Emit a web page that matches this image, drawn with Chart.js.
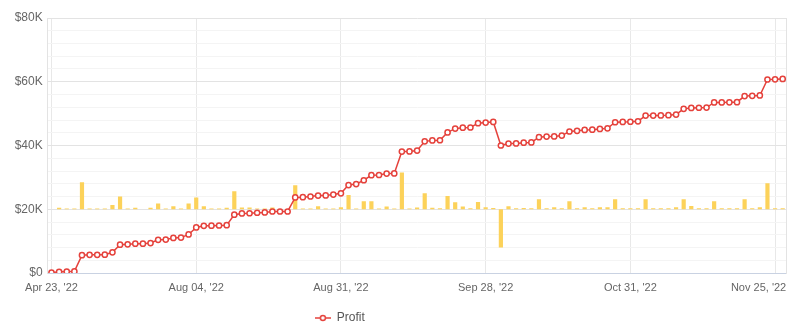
<!DOCTYPE html>
<html>
<head>
<meta charset="utf-8">
<script src="https://cdn.jsdelivr.net/npm/chart.js@4.4.0/dist/chart.umd.min.js"></script>
<style>
  html, body { margin: 0; padding: 0; background: #fff; }
  #wrap { width: 792px; height: 334px; position: relative; }
</style>
</head>
<body>
<div id="wrap"><canvas id="c"></canvas></div>
<script>
// ---- categories (trade dates) ----
const dates = [
  "Apr 23, '22",
  "May 02, '22","May 16, '22","May 27, '22","Jun 06, '22","Jun 14, '22","Jun 22, '22","Jun 29, '22","Jul 06, '22","Jul 12, '22",
  "Jul 15, '22","Jul 19, '22","Jul 21, '22","Jul 25, '22","Jul 27, '22","Jul 28, '22","Jul 29, '22","Aug 01, '22","Aug 03, '22",
  "Aug 04, '22",
  "Aug 05, '22","Aug 08, '22","Aug 09, '22","Aug 10, '22","Aug 11, '22","Aug 12, '22","Aug 15, '22","Aug 16, '22","Aug 17, '22",
  "Aug 18, '22","Aug 19, '22","Aug 22, '22","Aug 23, '22","Aug 24, '22","Aug 25, '22","Aug 26, '22","Aug 29, '22","Aug 30, '22",
  "Aug 31, '22",
  "Sep 01, '22","Sep 02, '22","Sep 06, '22","Sep 07, '22","Sep 08, '22","Sep 09, '22","Sep 12, '22","Sep 13, '22","Sep 14, '22",
  "Sep 15, '22","Sep 16, '22","Sep 19, '22","Sep 20, '22","Sep 21, '22","Sep 22, '22","Sep 23, '22","Sep 26, '22","Sep 27, '22",
  "Sep 28, '22",
  "Sep 29, '22","Sep 30, '22","Oct 03, '22","Oct 04, '22","Oct 05, '22","Oct 06, '22","Oct 07, '22","Oct 10, '22","Oct 12, '22",
  "Oct 13, '22","Oct 14, '22","Oct 17, '22","Oct 19, '22","Oct 20, '22","Oct 21, '22","Oct 24, '22","Oct 26, '22","Oct 28, '22",
  "Oct 31, '22",
  "Nov 01, '22","Nov 02, '22","Nov 03, '22","Nov 04, '22","Nov 07, '22","Nov 08, '22","Nov 09, '22","Nov 10, '22","Nov 11, '22",
  "Nov 14, '22","Nov 15, '22","Nov 16, '22","Nov 17, '22","Nov 18, '22","Nov 21, '22","Nov 22, '22","Nov 23, '22","Nov 24, '22",
  "Nov 25, '22",
  "Nov 28, '22"
];

// ---- cumulative profit (USD) ----
const profit = [
  100, 400, 450, 500, 5600, 5700, 5700, 5750, 6500, 8900,
  9000, 9200, 9200, 9400, 10400, 10500, 11000, 11100, 12100, 14300,
  14800, 14850, 14900, 15000, 18300, 18700, 18750, 18900, 19000, 19300,
  19300, 19300, 23700, 23800, 24000, 24300, 24350, 24600, 25000, 27600,
  27900, 29100, 30700, 30750, 31200, 31250, 38100, 38150, 38400, 41300,
  41600, 41650, 44100, 45300, 45600, 45650, 47000, 47200, 47400, 40000,
  40600, 40650, 40900, 40950, 42600, 42800, 42850, 43100, 44400, 44600,
  44900, 44950, 45200, 45400, 47300, 47400, 47450, 47600, 49400, 49400,
  49450, 49500, 49700, 51500, 51800, 51850, 51900, 53500, 53500, 53550,
  53600, 55500, 55600, 55700, 60700, 60750, 60900
];

// ---- per-day profit (USD) ----
const daily = [
  0, 300, 150, 150, 5100, 150, 150, 150, 800, 2400,
  150, 300, 0, 300, 1100, 150, 550, 150, 1100, 2200,
  550, 150, 150, 300, 3400, 350, 350, 150, 150, 350,
  0, 0, 4500, 150, 150, 550, 150, 150, 400, 2700,
  150, 1500, 1500, 150, 500, 150, 6900, 150, 350, 3000,
  300, 200, 2500, 1300, 500, 200, 1350, 400, 250, -7200,
  550, 200, 250, 200, 1900, 200, 400, 200, 1500, 200,
  400, 200, 400, 400, 1900, 200, 200, 200, 1900, 200,
  200, 200, 400, 1900, 600, 200, 200, 1500, 200, 200,
  200, 1900, 200, 400, 4900, 200, 200
];

const LABEL_EVERY = 19;
const RED = '#E5423C';
const FONT = "'Liberation Sans', Arial, sans-serif";

// legend marker: short line with hollow circle
function makeMarker() {
  const c = document.createElement('canvas');
  c.width = 16; c.height = 8;
  const g = c.getContext('2d');
  g.strokeStyle = RED; g.lineWidth = 1.5;
  g.beginPath(); g.moveTo(0, 4); g.lineTo(16, 4); g.stroke();
  g.beginPath(); g.arc(8, 4, 2.5, 0, Math.PI * 2);
  g.fillStyle = '#fff'; g.fill(); g.stroke();
  return c;
}
const marker = makeMarker();
const blank = document.createElement('canvas'); blank.width = 1; blank.height = 1;

new Chart(document.getElementById('c'), {
  type: 'bar',
  data: {
    labels: dates,
    datasets: [
      {
        type: 'line',
        label: 'Profit',
        data: profit,
        yAxisID: 'y',
        borderColor: RED,
        backgroundColor: '#fff',
        borderWidth: 1.5,
        pointRadius: 2.6,
        pointBorderWidth: 1.5,
        pointBackgroundColor: '#fff',
        pointBorderColor: RED,
        tension: 0,
        order: 0
      },
      {
        type: 'bar',
        label: 'Daily',
        data: daily,
        yAxisID: 'y1',
        backgroundColor: '#FCD25A',
        borderWidth: 0,
        barPercentage: 0.55,
        categoryPercentage: 1,
        order: 1
      }
    ]
  },
  options: {
    responsive: true,
    maintainAspectRatio: false,
    animation: false,
    layout: { padding: { top: 18, right: 5, left: 0, bottom: 0 } },
    plugins: {
      tooltip: { enabled: false },
      legend: {
        position: 'bottom',
        align: 'center',
        labels: {
          usePointStyle: true,
          pointStyleWidth: 16,
          boxHeight: 8,
          padding: 10,
          color: '#555',
          font: { family: FONT, size: 12 },
          generateLabels: (chart) => {
            const items = Chart.defaults.plugins.legend.labels.generateLabels(chart)
              .filter(it => it.text === 'Profit');
            items.forEach(it => { it.pointStyle = marker; });
            items.push({
              text: '\u2003\u2003\u2003\u2003\u2003\u2003 ',
              fillStyle: 'rgba(0,0,0,0)', strokeStyle: 'rgba(0,0,0,0)',
              lineWidth: 0, hidden: false, pointStyle: blank, datasetIndex: -1
            });
            return items;
          }
        }
      }
    },
    scales: {
      x: {
        offset: true,
        grid: { offset: false, color: '#e8e8e8', drawTicks: false },
        border: { color: '#c9d2e2', width: 1 },
        ticks: {
          autoSkip: false, maxRotation: 0, padding: 8,
          color: '#666', font: { family: FONT, size: 11 },
          callback: function (v, i) {
            if (i % LABEL_EVERY !== 0) return null;
            const t = this.getLabelForValue(v);
            // keep the last shown label inside the plot, as in the original
            return (i + LABEL_EVERY >= dates.length) ? t + '\u2003\u2003\u2003' : t;
          }
        },
        afterFit: (s) => { s.height = 29; s.paddingLeft = 0; s.paddingRight = 0; }
      },
      y: {
        min: 0, max: 80000,
        grid: {
          drawTicks: false,
          color: (ctx) => (ctx.tick && ctx.tick.value % 20000 === 0) ? '#e3e3e3' : '#f4f4f4'
        },
        border: { color: '#e3e3e3' },
        ticks: {
          stepSize: 4000, padding: 5, color: '#666', autoSkip: false,
          font: { family: FONT, size: 12 },
          callback: (v) => v % 20000 === 0 ? (v === 0 ? '$0' : '$' + (v / 1000) + 'K') : ''
        },
        afterFit: (s) => { s.width = 47.7; s.paddingTop = 0; s.paddingBottom = 0; }
      },
      y1: {
        position: 'right',
        min: -12000, max: 36000,
        grid: { display: false, drawTicks: false },
        border: { display: true, color: '#e3e3e3' },
        ticks: { display: false },
        afterFit: (s) => { s.width = 0; }
      }
    }
  }
});
</script>
</body>
</html>
